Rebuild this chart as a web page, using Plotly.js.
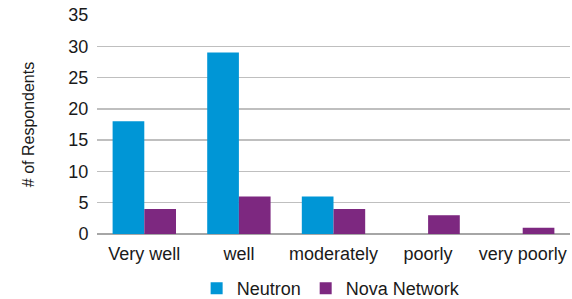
<!DOCTYPE html>
<html><head><meta charset="utf-8">
<script src="https://cdn.plot.ly/plotly-3.0.1.min.js"></script>
<style>html,body{margin:0;padding:0;background:#fff}#c{width:572px;height:299px}</style>
</head><body><div id="c"></div>
<script>
const categories = ["Very well", "well", "moderately", "poorly", "very poorly"];
const neutron = [18, 29, 6, 0, 0];
const nova = [4, 6, 4, 3, 1];
const yTicks = [0, 5, 10, 15, 20, 25, 30, 35];

const data = [
  {type: "bar", name: "Neutron", x: categories, y: neutron, marker: {color: "#0096D6"}},
  {type: "bar", name: "Nova Network", x: categories, y: nova, marker: {color: "#7D2880"}}
];
const layout = {
  width: 572, height: 299,
  margin: {l: 97, r: 2, t: 15, b: 65},
  font: {family: "Liberation Sans, Arial, sans-serif", color: "#1a1a1a"},
  paper_bgcolor: "#fff", plot_bgcolor: "#fff",
  barmode: "group", bargap: 0.33, bargroupgap: 0,
  xaxis: {tickfont: {size: 18}, showgrid: false, showline: false, ticks: "outside", ticklen: 3,
          tickcolor: "rgba(0,0,0,0)", automargin: false},
  yaxis: {range: [0, 35], tickvals: yTicks, tickfont: {size: 18}, gridcolor: "#BFBFBF", gridwidth: 1.5,
          zeroline: true, zerolinecolor: "#A6A6A6", zerolinewidth: 1.5, ticks: "outside", ticklen: 4,
          tickcolor: "rgba(0,0,0,0)",
          title: {text: "# of Respondents", font: {size: 16}, standoff: 29}, automargin: false},
  showlegend: true,
  legend: {orientation: "h", x: 0.495, xanchor: "center", yref: "container", y: 0.035, yanchor: "middle",
           font: {size: 18}, itemwidth: 30, traceorder: "normal", bgcolor: "rgba(0,0,0,0)"}
};
Plotly.newPlot("c", data, layout, {displayModeBar: false, staticPlot: true});
</script></body></html>
